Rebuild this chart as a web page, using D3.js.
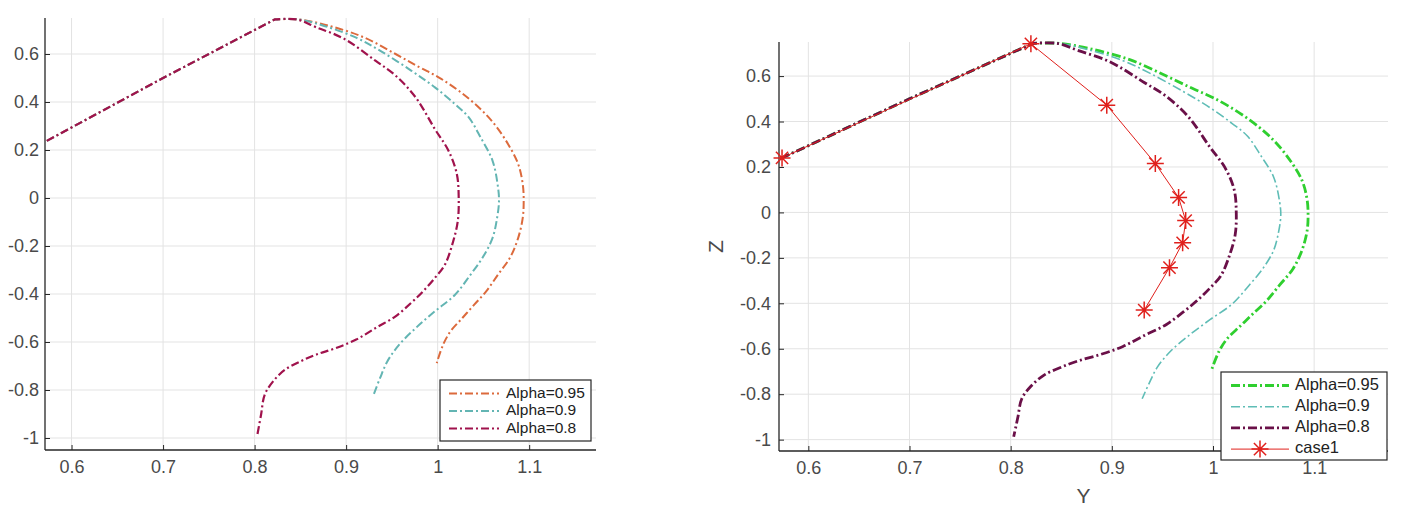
<!DOCTYPE html>
<html><head><meta charset="utf-8">
<script src="https://cdn.jsdelivr.net/npm/d3@7/dist/d3.min.js"></script>
<style>body{margin:0;background:#fff;} svg{display:block;}</style>
</head><body><svg id="c" width="1411" height="510"></svg>
<script>
// ---- data ----
const xTicks = [0.6, 0.7, 0.8, 0.9, 1, 1.1];
const zTicks = [0.6, 0.4, 0.2, 0, -0.2, -0.4, -0.6, -0.8, -1];
const seriesNames = ["Alpha=0.95", "Alpha=0.9", "Alpha=0.8"];
const caseName = "case1";

const a95Y = [0.573, 0.700, 0.822, 0.848, 0.880, 0.919, 0.954, 0.980, 1.001, 1.023, 1.045, 1.062, 1.077, 1.088, 1.093, 1.094, 1.093, 1.088, 1.079, 1.066, 1.053, 1.040, 1.027, 1.014, 1.006, 0.999];
const a95Z = [0.238, 0.500, 0.744, 0.744, 0.719, 0.670, 0.600, 0.545, 0.503, 0.447, 0.377, 0.308, 0.224, 0.141, 0.057, -0.013, -0.082, -0.166, -0.249, -0.319, -0.389, -0.444, -0.500, -0.556, -0.611, -0.688];

const a90Y = [0.573, 0.700, 0.822, 0.848, 0.876, 0.911, 0.937, 0.971, 0.997, 1.019, 1.034, 1.047, 1.060, 1.066, 1.067, 1.065, 1.060, 1.049, 1.036, 1.019, 0.997, 0.976, 0.958, 0.945, 0.937, 0.930];
const a90Z = [0.238, 0.500, 0.744, 0.744, 0.717, 0.668, 0.614, 0.531, 0.461, 0.391, 0.336, 0.252, 0.155, 0.043, -0.013, -0.082, -0.166, -0.249, -0.319, -0.403, -0.472, -0.542, -0.611, -0.681, -0.751, -0.820];

const a80Y = [0.573, 0.700, 0.822, 0.846, 0.867, 0.898, 0.932, 0.954, 0.976, 0.997, 1.012, 1.021, 1.023, 1.022, 1.017, 1.008, 0.997, 0.984, 0.971, 0.954, 0.932, 0.911, 0.889, 0.867, 0.850, 0.833, 0.820, 0.811, 0.807, 0.803];
const a80Z = [0.238, 0.500, 0.744, 0.744, 0.712, 0.663, 0.572, 0.510, 0.419, 0.287, 0.196, 0.099, 0.000, -0.096, -0.180, -0.277, -0.333, -0.389, -0.437, -0.493, -0.542, -0.590, -0.625, -0.653, -0.681, -0.716, -0.765, -0.820, -0.904, -0.987];

const case1Y = [0.574, 0.820, 0.895, 0.943, 0.966, 0.973, 0.970, 0.957, 0.932];
const case1Z = [0.240, 0.742, 0.472, 0.215, 0.066, -0.036, -0.134, -0.243, -0.430];

const xDomain = [0.571, 1.173];
const zDomain = [-1.05, 0.75];

const svg = d3.select("#c");
const zip = (a, b) => a.map((v, i) => [v, b[i]]);
const seriesData = [zip(a95Y, a95Z), zip(a90Y, a90Z), zip(a80Y, a80Z)];
const FONT = "Liberation Sans, Arial, sans-serif";
const fmt = d => String(d);

function drawPanel(o) {
  const g = svg.append("g");
  const x = d3.scaleLinear().domain(xDomain).range([o.left, o.right]);
  const y = d3.scaleLinear().domain(zDomain).range([o.bottom, o.top]);
  // grid
  g.append("g").selectAll("line").data(xTicks).join("line")
    .attr("x1", d => x(d)).attr("x2", d => x(d)).attr("y1", o.top).attr("y2", o.bottom)
    .attr("stroke", "#e3e3e3").attr("stroke-width", 1);
  g.append("g").selectAll("line").data(zTicks).join("line")
    .attr("y1", d => y(d)).attr("y2", d => y(d)).attr("x1", o.left).attr("x2", o.right)
    .attr("stroke", "#e3e3e3").attr("stroke-width", 1);
  // axes
  const ax = g.append("g").attr("transform", `translate(0,${o.bottom})`)
    .call(d3.axisBottom(x).tickValues(xTicks).tickSize(-5).tickPadding(10).tickFormat(fmt));
  const ay = g.append("g").attr("transform", `translate(${o.left},0)`)
    .call(d3.axisLeft(y).tickValues(zTicks).tickSize(-5).tickPadding(o.ypad).tickFormat(fmt));
  [ax, ay].forEach(a => {
    a.select(".domain").attr("stroke", "#262626").attr("stroke-width", 1.3);
    a.selectAll(".tick line").attr("stroke", "#262626");
    a.selectAll("text").attr("fill", "#4a4a4a").style("font-family", FONT).style("font-size", "18px");
  });
  ax.select(".domain").attr("d", `M${o.left},0H${o.right}`);
  ay.select(".domain").attr("d", `M0,${o.bottom}V${o.top}`);
  ax.selectAll("text").attr("dy", "0.71em");

  if (o.xlabel) {
    g.append("text").attr("x", (o.left + o.right) / 2).attr("y", o.xlabelY).attr("text-anchor", "middle")
      .attr("dominant-baseline", "middle").attr("fill", "#4a4a4a")
      .style("font-family", FONT).style("font-size", "21px").text(o.xlabel);
  }
  if (o.ylabel) {
    g.append("text").attr("transform", `translate(${o.ylabelX},${(o.top + o.bottom) / 2}) rotate(-90)`)
      .attr("text-anchor", "middle").attr("dominant-baseline", "middle").attr("fill", "#4a4a4a")
      .style("font-family", FONT).style("font-size", "21px").text(o.ylabel);
  }

  const lineLin = d3.line().x(d => x(d[0])).y(d => y(d[1]));
  const lineCurve = d3.line().x(d => x(d[0])).y(d => y(d[1])).curve(d3.curveCatmullRom.alpha(0.5));
  const pathOf = data => {
    const a = lineLin(data.slice(0, 3));
    const b = lineCurve(data.slice(2));
    return a + "L" + b.slice(1);
  };
  [0, 1, 2].forEach(i => {
    g.append("path").attr("d", pathOf(seriesData[i])).attr("fill", "none")
      .attr("stroke", o.colors[i]).attr("stroke-width", o.widths[i])
      .attr("stroke-dasharray", o.dash).attr("stroke-linecap", "butt").attr("stroke-linejoin", "round");
  });
  const star = (sel, cx, cy, r) => {
    const p = `M${cx - r},${cy}H${cx + r}M${cx},${cy - r}V${cy + r}` +
      `M${cx - r * 0.72},${cy - r * 0.72}L${cx + r * 0.72},${cy + r * 0.72}` +
      `M${cx - r * 0.72},${cy + r * 0.72}L${cx + r * 0.72},${cy - r * 0.72}`;
    sel.append("path").attr("d", p).attr("stroke", o.caseColor).attr("stroke-width", 1.5).attr("fill", "none");
  };
  if (o.caseData) {
    g.append("path").datum(o.caseData).attr("d", lineLin).attr("fill", "none")
      .attr("stroke", o.caseColor).attr("stroke-width", 1);
    o.caseData.forEach(d => star(g, x(d[0]), y(d[1]), 8.5));
  }
  // legend
  const L = o.legend;
  g.append("rect").attr("x", L.x).attr("y", L.y).attr("width", L.w).attr("height", L.h)
    .attr("fill", "#fff").attr("stroke", "#262626").attr("stroke-width", 1.2);
  seriesNames.forEach((name, i) => {
    const yy = L.y + L.rowStart + i * L.rowH;
    g.append("line").attr("x1", L.x + L.lx1).attr("x2", L.x + L.lx2).attr("y1", yy).attr("y2", yy)
      .attr("stroke", o.colors[i]).attr("stroke-width", o.widths[i]).attr("stroke-dasharray", o.dash);
    g.append("text").attr("x", L.x + L.tx).attr("y", yy).attr("dominant-baseline", "middle")
      .attr("fill", "#222").style("font-family", FONT)
      .style("font-size", L.fs + "px").text(name);
  });
  if (o.caseData) {
    const yy = L.y + L.rowStart + 3 * L.rowH;
    g.append("line").attr("x1", L.x + L.lx1).attr("x2", L.x + L.lx2).attr("y1", yy).attr("y2", yy)
      .attr("stroke", o.caseColor).attr("stroke-width", 1);
    star(g, L.x + (L.lx1 + L.lx2) / 2, yy, 8.5);
    g.append("text").attr("x", L.x + L.tx).attr("y", yy).attr("dominant-baseline", "middle")
      .attr("fill", "#222").style("font-family", FONT)
      .style("font-size", L.fs + "px").text(caseName);
  }
}

drawPanel({
  left: 45, right: 596, top: 18, bottom: 450, ypad: 6,
  colors: ["#dc6a3c", "#63b5b3", "#a0124c"], widths: [2, 2, 2.2],
  dash: "8,3,2,3",
  legend: { x: 440, y: 380, w: 151, h: 61, rowStart: 13.5, rowH: 17.5, lx1: 9, lx2: 59, tx: 66, fs: 15.5 }
});

drawPanel({
  left: 779, right: 1388, top: 42, bottom: 451, ypad: 8,
  colors: ["#2fcf2f", "#5fbdb6", "#6a1048"], widths: [2.8, 1.6, 2.8],
  dash: "9,3,2,3",
  xlabel: "Y", xlabelY: 497, ylabel: "Z", ylabelX: 717,
  caseData: zip(case1Y, case1Z), caseColor: "#e0201c",
  legend: { x: 1221, y: 372, w: 166, h: 88, rowStart: 13.5, rowH: 21.2, lx1: 10, lx2: 68, tx: 74, fs: 16.5 }
});
</script></body></html>
